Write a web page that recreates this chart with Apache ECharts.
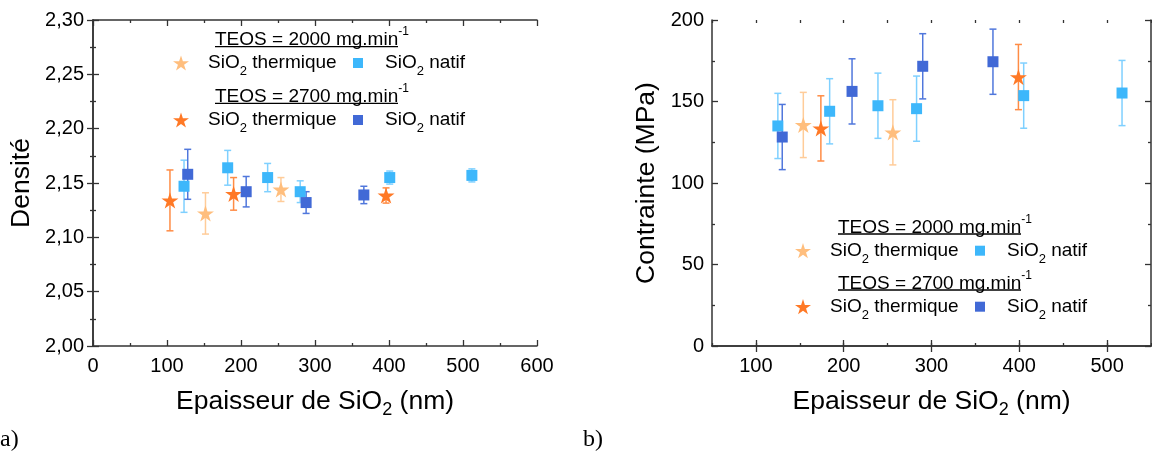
<!DOCTYPE html>
<html>
<head>
<meta charset="utf-8">
<script src="https://cdn.jsdelivr.net/npm/echarts@6/dist/echarts.min.js"></script>
<style>
html,body{margin:0;padding:0;background:#fff;}
#chart{width:1152px;height:457px;}
</style>
</head>
<body>
<div id="chart"></div>
<script>
// ---------- Data: a) Densité ----------
const a_th2000_x = [152, 254];
const a_th2000_y = [2.122, 2.144];
const a_th2000_e = [0.019, 0.011];

const a_nat2000_x = [123, 182, 236, 280, 401, 512];
const a_nat2000_y = [2.147, 2.164, 2.155, 2.142, 2.155, 2.157];
const a_nat2000_e = [0.024, 0.016, 0.013, 0.010, 0.006, 0.006];

const a_th2700_x = [104, 190, 396];
const a_th2700_y = [2.134, 2.140, 2.1385];
const a_th2700_e = [0.028, 0.015, 0.007];

const a_nat2700_x = [128, 207, 288, 366];
const a_nat2700_y = [2.158, 2.142, 2.132, 2.139];
const a_nat2700_e = [0.023, 0.014, 0.010, 0.008];

// ---------- Data: b) Contrainte ----------
const b_th2000_x = [154, 256];
const b_th2000_y = [135.6, 131.1];
const b_th2000_e = [20, 20];

const b_nat2000_x = [125, 184, 239, 283, 405, 517];
const b_nat2000_y = [135, 144, 147.4, 145.6, 153.6, 155.2];
const b_nat2000_e = [20, 20, 20, 20, 20, 20];

const b_th2700_x = [174, 399];
const b_th2700_y = [133.5, 165];
const b_th2700_e = [20, 20];

const b_nat2700_x = [130, 209.5, 290, 370];
const b_nat2700_y = [128.2, 156.2, 171.6, 174.4];
const b_nat2700_e = [20, 20, 20, 20];

// ---------- Tick labels ----------
const a_xTicks = [0, 100, 200, 300, 400, 500, 600];
const a_yTicks = [2.00, 2.05, 2.10, 2.15, 2.20, 2.25, 2.30];
const b_xTicks = [100, 200, 300, 400, 500];
const b_yTicks = [0, 50, 100, 150, 200];

// ---------- Texts ----------
const legendTitle2000 = 'TEOS = 2000 mg.min';
const legendTitle2700 = 'TEOS = 2700 mg.min';
const legendTitleSup = '-1';
const seriesLabels = {
  th2000: 'SiO{sub|2} thermique',
  nat2000: 'SiO{sub|2} natif',
  th2700: 'SiO{sub|2} thermique',
  nat2700: 'SiO{sub|2} natif'
};

// ---------- Styles ----------
const FONT = 'Liberation Sans, Arial, sans-serif';
const COLORS = {th2000: '#ffbe7d', nat2000: '#3db7fb', th2700: '#ff7926', nat2700: '#4169d6'};
const ERRCOLORS = {th2000: '#ffcc99', nat2000: '#7fd0ff', th2700: '#ff8c45', nat2700: '#5077dc'};
const STAR = 'path://M50,0 L61.2,34.5 L97.6,34.5 L68.2,55.9 L79.4,90.5 L50,69.1 L20.6,90.5 L31.8,55.9 L2.4,34.5 L38.8,34.5 Z';
const SQUARE_ICON = 'path://M0,0 L10,0 L10,10 L0,10 Z';
const AXIS_COLOR = '#333';

function zip(xs, ys) { return xs.map((x, i) => [x, ys[i]]); }
function zip3(xs, ys, es) { return xs.map((x, i) => [x, ys[i], es[i]]); }

function errSeries(key, xs, ys, es, xi, yi) {
  const col = ERRCOLORS[key];
  return {
    type: 'custom', name: 'err_' + key, xAxisIndex: xi, yAxisIndex: yi, z: 2,
    data: zip3(xs, ys, es),
    encode: {x: 0, y: 1},
    renderItem: function (params, api) {
      const x = api.value(0), y = api.value(1), e = api.value(2);
      const t = api.coord([x, y + e]);
      const b = api.coord([x, y - e]);
      const w = 3.5;
      const st = {stroke: col, lineWidth: 1.5};
      return {type: 'group', children: [
        {type: 'line', shape: {x1: t[0], y1: t[1], x2: b[0], y2: b[1]}, style: st},
        {type: 'line', shape: {x1: t[0] - w, y1: t[1], x2: t[0] + w, y2: t[1]}, style: st},
        {type: 'line', shape: {x1: b[0] - w, y1: b[1], x2: b[0] + w, y2: b[1]}, style: st}
      ]};
    }
  };
}
function ptSeries(key, xs, ys, xi, yi) {
  const isStar = key.indexOf('th') === 0;
  return {
    type: 'scatter', name: key, xAxisIndex: xi, yAxisIndex: yi, z: 3,
    data: zip(xs, ys),
    symbol: isStar ? STAR : 'rect',
    symbolKeepAspect: true,
    symbolSize: isStar ? 17 : 11,
    itemStyle: {color: COLORS[key], opacity: 1},
    emphasis: {disabled: true}
  };
}

const labelStyle = {color: '#000', fontSize: 20, fontFamily: FONT};
const nameStyle = {color: '#000', fontSize: 26.5, fontFamily: FONT, lineHeight: 34,
  rich: {sub: {fontSize: 18, fontFamily: FONT, verticalAlign: 'bottom', lineHeight: 18, color: '#000'}}};

function mkLegend(key, cx, cy) {
  const isStar = key.indexOf('th') === 0;
  const w = isStar ? 16 : 10;
  return {
    left: cx - w / 2, top: cy - 15, padding: 0,
    itemWidth: w, itemHeight: w, selectedMode: false,
    data: [{name: key, icon: isStar ? STAR : SQUARE_ICON}],
    formatter: function (n) { return seriesLabels[n]; },
    textStyle: {color: '#000', fontSize: 19, fontFamily: FONT, lineHeight: 30,
      padding: [0, 0, 0, 27 - w / 2 - 5],
      rich: {sub: {fontSize: 13, fontFamily: FONT, verticalAlign: 'bottom', lineHeight: 13, color: '#000'}}}
  };
}

function titleGraphic(txt, x, cy) {
  return [
    {type: 'text', x: x, y: cy, z: 10,
     style: {text: '{n|' + txt + '}{s|' + legendTitleSup + '}', textAlign: 'left', textVerticalAlign: 'middle',
       rich: {n: {fontSize: 19, fontFamily: FONT, color: '#000', lineHeight: 28},
              s: {fontSize: 12, fontFamily: FONT, color: '#000', verticalAlign: 'top', lineHeight: 12}}}},
    {type: 'line', z: 10, shape: {x1: x, y1: cy + 6.7, x2: x + 183, y2: cy + 6.7}, style: {stroke: '#000', lineWidth: 1.3}}
  ];
}

const chart = echarts.init(document.getElementById('chart'), null, {renderer: 'canvas'});

const baseAxisLine = {show: true, lineStyle: {color: AXIS_COLOR, width: 1.5}};
const tickStyle = {color: AXIS_COLOR, width: 1.3};

const option = {
  animation: false,
  backgroundColor: '#fff',
  grid: [
    {left: 93, top: 20, width: 444, height: 326},
    {left: 712, top: 20, width: 439, height: 326},
    {left: 712, top: 20, width: 439, height: 326}
  ],
  xAxis: [
    {gridIndex: 0, type: 'value', position: 'bottom', min: a_xTicks[0], max: a_xTicks[a_xTicks.length - 1], interval: 100,
     axisLine: baseAxisLine, axisTick: {show: true, inside: true, length: 6, lineStyle: tickStyle},
     minorTick: {show: true, splitNumber: 2, length: 3, lineStyle: tickStyle},
     splitLine: {show: false},
     axisLabel: {...labelStyle, margin: 10, customValues: a_xTicks, formatter: v => String(v)},
     name: 'Epaisseur de SiO{sub|2} (nm)', nameLocation: 'middle', nameGap: 39, nameTextStyle: nameStyle},
    {gridIndex: 0, type: 'value', position: 'top', min: 0, max: 600, interval: 100,
     axisLine: baseAxisLine, axisTick: {show: true, inside: true, length: 6, lineStyle: tickStyle},
     minorTick: {show: true, splitNumber: 2, length: 3, lineStyle: tickStyle},
     splitLine: {show: false}, axisLabel: {show: false}},
    {gridIndex: 1, type: 'value', position: 'bottom', min: 50, max: 550, interval: 50,
     axisLine: baseAxisLine,
     axisTick: {show: true, inside: true, length: 6, customValues: b_xTicks, lineStyle: tickStyle},
     splitLine: {show: false},
     axisLabel: {...labelStyle, margin: 10, customValues: b_xTicks, formatter: v => String(v)},
     name: 'Epaisseur de SiO{sub|2} (nm)', nameLocation: 'middle', nameGap: 39, nameTextStyle: nameStyle},
    {gridIndex: 1, type: 'value', position: 'top', min: 50, max: 550, interval: 50,
     axisLine: baseAxisLine,
     axisTick: {show: true, inside: true, length: 6, customValues: b_xTicks, lineStyle: tickStyle},
     splitLine: {show: false}, axisLabel: {show: false}},
    {gridIndex: 2, type: 'value', position: 'bottom', min: 50, max: 550, interval: 50,
     axisLine: {show: false}, axisTick: {show: true, inside: true, length: 3, lineStyle: tickStyle},
     splitLine: {show: false}, axisLabel: {show: false}},
    {gridIndex: 2, type: 'value', position: 'top', min: 50, max: 550, interval: 50,
     axisLine: {show: false}, axisTick: {show: true, inside: true, length: 3, lineStyle: tickStyle},
     splitLine: {show: false}, axisLabel: {show: false}}
  ],
  yAxis: [
    {gridIndex: 0, type: 'value', position: 'left', min: a_yTicks[0], max: a_yTicks[a_yTicks.length - 1], interval: 0.05,
     axisLine: baseAxisLine, axisTick: {show: true, inside: true, length: 6, lineStyle: tickStyle},
     minorTick: {show: true, splitNumber: 2, length: 3, lineStyle: tickStyle},
     splitLine: {show: false},
     axisLabel: {...labelStyle, margin: 9, formatter: v => v.toFixed(2).replace('.', ',')},
     name: 'Densité', nameLocation: 'middle', nameGap: 54, nameTextStyle: nameStyle},
    {gridIndex: 0, type: 'value', position: 'right', min: 2.0, max: 2.3, interval: 0.05,
     axisLine: baseAxisLine, axisTick: {show: true, inside: true, length: 6, lineStyle: tickStyle},
     minorTick: {show: true, splitNumber: 2, length: 3, lineStyle: tickStyle},
     splitLine: {show: false}, axisLabel: {show: false}},
    {gridIndex: 1, type: 'value', position: 'left', min: b_yTicks[0], max: b_yTicks[b_yTicks.length - 1], interval: 50,
     axisLine: baseAxisLine, axisTick: {show: true, inside: true, length: 6, lineStyle: tickStyle},
     minorTick: {show: true, splitNumber: 2, length: 3, lineStyle: tickStyle},
     splitLine: {show: false},
     axisLabel: {...labelStyle, margin: 8},
     name: 'Contrainte (MPa)', nameLocation: 'middle', nameGap: 48, nameTextStyle: nameStyle},
    {gridIndex: 1, type: 'value', position: 'right', min: 0, max: 200, interval: 50,
     axisLine: baseAxisLine, axisTick: {show: true, inside: true, length: 6, lineStyle: tickStyle},
     minorTick: {show: true, splitNumber: 2, length: 3, lineStyle: tickStyle},
     splitLine: {show: false}, axisLabel: {show: false}},
    {gridIndex: 2, type: 'value', show: false, min: 0, max: 200}
  ],
  legend: [
    mkLegend('th2000', 181, 63), mkLegend('nat2000', 358, 63),
    mkLegend('th2700', 181, 120), mkLegend('nat2700', 358, 120),
    mkLegend('th2000', 803, 250.7), mkLegend('nat2000', 980, 250.7),
    mkLegend('th2700', 803, 306.7), mkLegend('nat2700', 980, 306.7)
  ],
  graphic: [].concat(
    titleGraphic(legendTitle2000, 215, 40),
    titleGraphic(legendTitle2700, 215, 96.7),
    titleGraphic(legendTitle2000, 838, 227.3),
    titleGraphic(legendTitle2700, 838, 283.3),
    [
      {type: 'text', x: 0, y: 440, style: {text: 'a)', fontSize: 24, fontFamily: 'Liberation Serif, Times New Roman, serif', fill: '#000', textVerticalAlign: 'middle'}},
      {type: 'text', x: 583, y: 440, style: {text: 'b)', fontSize: 24, fontFamily: 'Liberation Serif, Times New Roman, serif', fill: '#000', textVerticalAlign: 'middle'}}
    ]
  ),
  series: [
    errSeries('th2000', a_th2000_x, a_th2000_y, a_th2000_e, 0, 0),
    errSeries('nat2000', a_nat2000_x, a_nat2000_y, a_nat2000_e, 0, 0),
    errSeries('th2700', a_th2700_x, a_th2700_y, a_th2700_e, 0, 0),
    errSeries('nat2700', a_nat2700_x, a_nat2700_y, a_nat2700_e, 0, 0),
    ptSeries('th2000', a_th2000_x, a_th2000_y, 0, 0),
    ptSeries('nat2000', a_nat2000_x, a_nat2000_y, 0, 0),
    ptSeries('th2700', a_th2700_x, a_th2700_y, 0, 0),
    ptSeries('nat2700', a_nat2700_x, a_nat2700_y, 0, 0),
    errSeries('th2000', b_th2000_x, b_th2000_y, b_th2000_e, 2, 2),
    errSeries('nat2000', b_nat2000_x, b_nat2000_y, b_nat2000_e, 2, 2),
    errSeries('th2700', b_th2700_x, b_th2700_y, b_th2700_e, 2, 2),
    errSeries('nat2700', b_nat2700_x, b_nat2700_y, b_nat2700_e, 2, 2),
    ptSeries('th2000', b_th2000_x, b_th2000_y, 2, 2),
    ptSeries('nat2000', b_nat2000_x, b_nat2000_y, 2, 2),
    ptSeries('th2700', b_th2700_x, b_th2700_y, 2, 2),
    ptSeries('nat2700', b_nat2700_x, b_nat2700_y, 2, 2)
  ]
};
chart.setOption(option);
</script>
</body>
</html>
